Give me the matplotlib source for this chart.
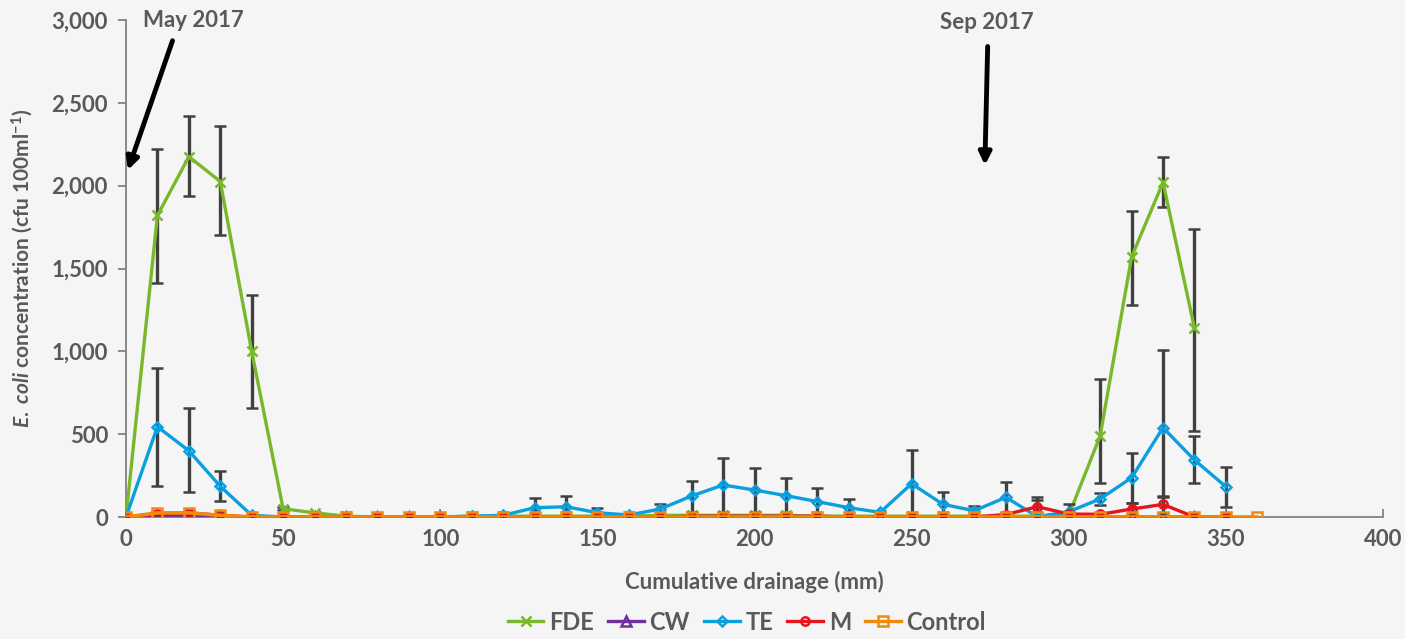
import matplotlib.pyplot as plt
from matplotlib.lines import Line2D
import numpy as np

plt.rcParams['font.family'] = ['Lato', 'DejaVu Sans']
plt.rcParams['mathtext.fontset'] = 'custom'
plt.rcParams['mathtext.it'] = 'Lato:italic:bold'
plt.rcParams['mathtext.rm'] = 'Lato:bold'

# drainage (mm)
x_all = list(range(0, 370, 10))

fde = [0, 1820, 2175, 2025, 1000, 50, 25, 5, 0, 0, 0, 5, 5, 5, 5, 5, 5, 10, 10, 10,
       10, 10, 5, 5, 5, 5, 5, 5, 5, 5, 10, 490, 1570, 2020, 1140]
fde_lo = [0, 410, 240, 325, 345, 10, 5, 0, 0, 0, 0, 0, 0, 0, 0, 0, 0, 0, 0, 0,
          0, 0, 0, 0, 0, 0, 0, 0, 0, 0, 0, 285, 290, 150, 620]
fde_hi = [0, 400, 245, 335, 340, 10, 5, 0, 0, 0, 0, 0, 0, 0, 0, 0, 0, 0, 0, 0,
          0, 0, 0, 0, 0, 0, 0, 0, 0, 0, 0, 340, 280, 155, 600]

cw = [0, 10, 10, 5, 0, 0, 0, 0, 0, 0, 0, 0, 0, 0, 0, 0, 0, 0, 0, 0,
      0, 0, 0, 0, 0, 0, 0, 0, 0, 0, 0, 0, 0, 0, 0, 0]

te = [0, 545, 400, 185, 10, 0, 0, 0, 0, 0, 0, 5, 10, 56, 62, 26, 12, 48, 127, 193,
      163, 129, 93, 56, 28, 201, 76, 38, 119, 2, 32, 109, 237, 539, 344, 183]
te_lo = [0, 355, 250, 90, 0, 0, 0, 0, 0, 0, 0, 0, 5, 50, 55, 20, 5, 40, 95, 163,
         133, 104, 83, 51, 20, 201, 76, 28, 94, 0, 20, 34, 151, 416, 141, 125]
te_hi = [0, 355, 255, 95, 0, 0, 0, 0, 0, 0, 0, 0, 15, 61, 65, 28, 8, 30, 92, 163,
         132, 106, 82, 53, 10, 205, 73, 28, 94, 121, 46, 38, 151, 469, 145, 121]

m = [0, 20, 25, 10, 0, 0, 0, 0, 0, 0, 0, 0, 0, 0, 0, 0, 0, 0, 5, 5,
     5, 5, 5, 0, 0, 0, 0, 0, 15, 62, 18, 16, 48, 76, 0, 0]
m_err = [0, 10, 10, 5, 0, 0, 0, 0, 0, 0, 0, 0, 0, 0, 0, 0, 0, 0, 0, 0,
         0, 0, 0, 0, 0, 0, 0, 0, 10, 40, 10, 10, 35, 50, 0, 0]

control = [0, 25, 25, 10, 0, 0, 0, 0, 0, 0, 0, 0, 0, 0, 0, 0, 0, 0, 0, 0,
           0, 0, 0, 0, 0, 0, 0, 0, 0, 0, 0, 0, 0, 0, 0, 0, 0]

grey = '#595959'
bg = '#f5f5f5'

fig = plt.figure(figsize=(14.05, 6.39), dpi=100, facecolor=bg)
ax = fig.add_axes([126 / 1405, 1 - 517 / 639, (1383 - 126) / 1405, (517 - 20) / 639])
ax.set_facecolor(bg)

ebar = dict(ecolor='#404040', elinewidth=2.4, capsize=4, capthick=2.4)

styles = [
    ('FDE', '#78B82A', 'x', 7),
    ('CW', '#7030A0', '^', 7),
    ('TE', '#0AA0E0', 'D', 5),
    ('M', '#E8141B', 'o', 6),
    ('Control', '#F08A0A', 's', 7),
]

ax.errorbar(x_all[:len(fde)], fde, yerr=[fde_lo, fde_hi], color=styles[0][1], lw=2.4,
            marker='x', ms=7, mew=1.8, zorder=3, **ebar)
ax.plot(x_all[:len(cw)], cw, color=styles[1][1], lw=2.4, marker='^', ms=7,
        mfc='none', mew=1.8, zorder=3)
ax.errorbar(x_all[:len(te)], te, yerr=[te_lo, te_hi], color=styles[2][1], lw=2.4,
            marker='D', ms=5, mfc='none', mew=1.8, zorder=4, **ebar)
ax.errorbar(x_all[:len(m)], m, yerr=m_err, color=styles[3][1], lw=2.4, marker='o',
            ms=6, mfc='none', mew=1.8, zorder=4, **ebar)
ax.plot(x_all[:len(control)], control, color=styles[4][1], lw=2.6, marker='s',
        ms=7, mfc='none', mew=1.8, zorder=5)

ax.set_xlim(0, 400)
ax.set_ylim(0, 3000)
ax.set_xticks(np.arange(0, 401, 50))
ax.set_yticks(np.arange(0, 3001, 500))
ax.set_yticklabels([f'{v:,}' for v in range(0, 3001, 500)])

for s in ['top', 'right']:
    ax.spines[s].set_visible(False)
for s in ['left', 'bottom']:
    ax.spines[s].set_color('#808080')
    ax.spines[s].set_linewidth(1.3)
ax.tick_params(axis='y', direction='out', length=6, color='#808080', width=1.3,
               labelsize=16, labelcolor=grey, pad=7)
ax.tick_params(axis='x', direction='in', length=6, color='#808080', width=1.3,
               labelsize=16, labelcolor=grey, pad=9)
for lab in ax.get_xticklabels() + ax.get_yticklabels():
    lab.set_fontweight('bold')

ax.set_xlabel('Cumulative drainage (mm)', fontsize=16, fontweight='bold', color=grey,
              labelpad=15)
ax.set_ylabel(r'$\it{E.\ coli}$ concentration (cfu 100ml$^{-1}$)', fontsize=15,
              fontweight='bold', color=grey, labelpad=12)

# annotations
arrow = dict(arrowstyle='-|>', color='black', lw=3.5, mutation_scale=18,
             shrinkA=0, shrinkB=0)
ax.text(21.5, 3000, 'May 2017', ha='center', va='center', fontsize=16,
        fontweight='bold', color=grey, clip_on=False)
ax.annotate('', xy=(0.6, 2094), xytext=(14.8, 2875), arrowprops=arrow,
            annotation_clip=False)
ax.text(274, 2985, 'Sep 2017', ha='center', va='center', fontsize=16,
        fontweight='bold', color=grey, clip_on=False)
ax.annotate('', xy=(273.3, 2124), xytext=(274.2, 2840), arrowprops=arrow,
            annotation_clip=False)

handles = [Line2D([], [], color=c, marker=mk, ms=ms, mfc='none' if mk != 'x' else c,
                  mew=1.8, lw=2.4) for _, c, mk, ms in styles]
leg = fig.legend(handles, [s[0] for s in styles], loc='lower center',
                 bbox_to_anchor=(747 / 1405, -0.025), ncol=5, frameon=False,
                 fontsize=17, handlelength=1.5, columnspacing=0.6, handletextpad=0.25)
for t in leg.get_texts():
    t.set_color(grey)
    t.set_fontweight('bold')

fig.savefig('out.png', dpi=100, facecolor=bg)
